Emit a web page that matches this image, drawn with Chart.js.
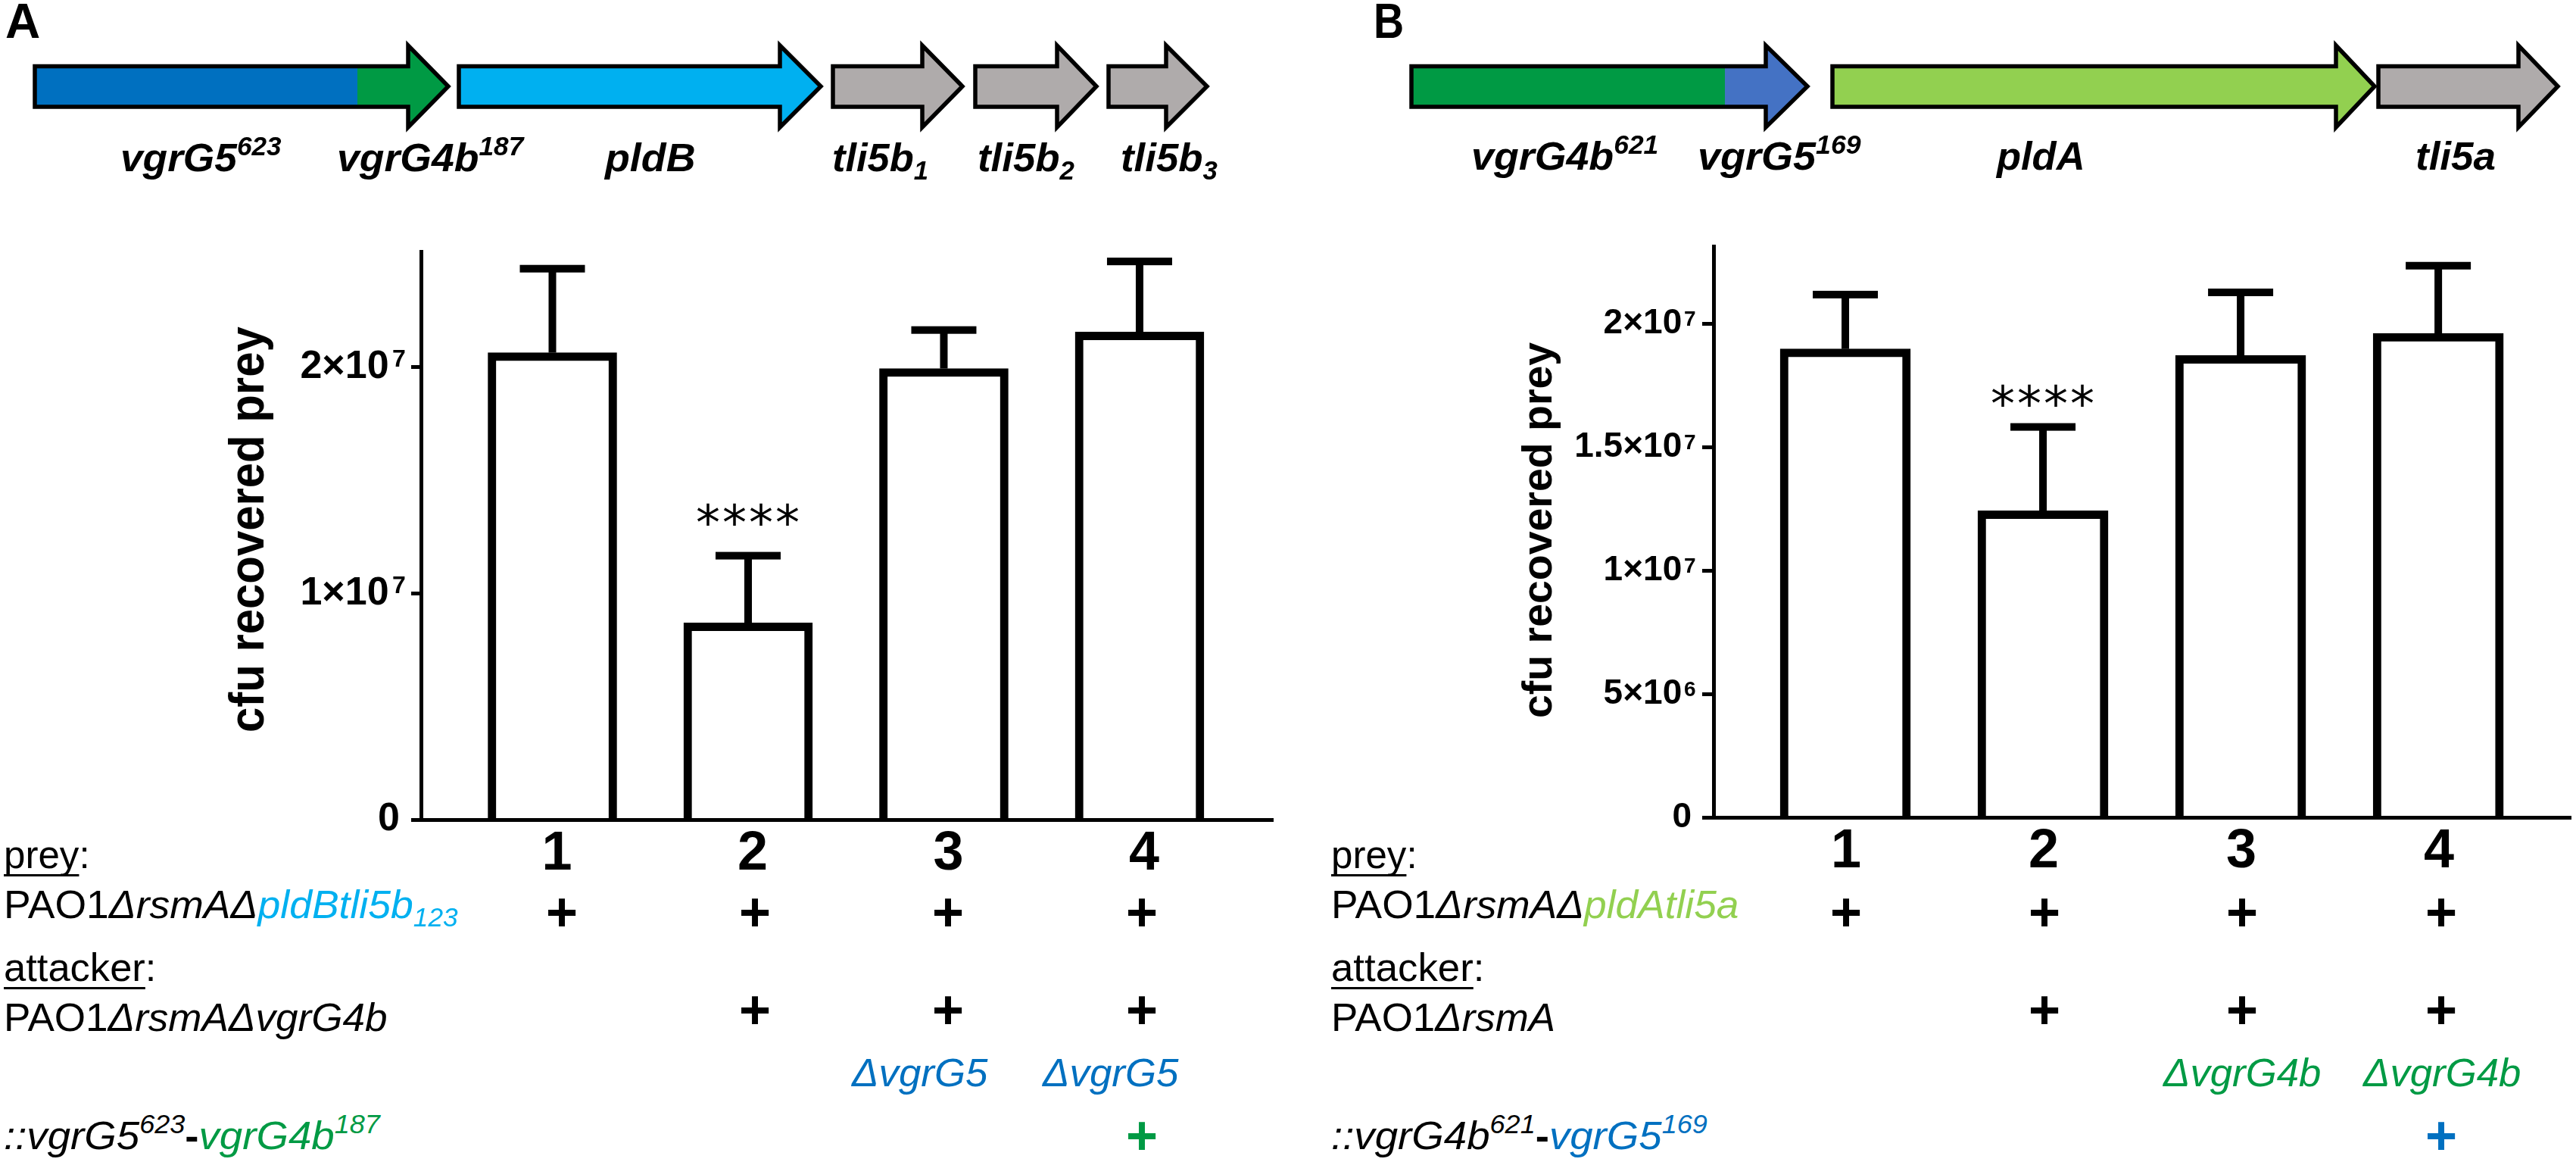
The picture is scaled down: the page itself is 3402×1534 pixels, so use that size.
<!DOCTYPE html>
<html>
<head>
<meta charset="utf-8">
<title>cfu recovered prey</title>
<script src="https://cdn.jsdelivr.net/npm/chart.js@4/dist/chart.umd.min.js"></script>
<style>
  html, body { margin: 0; background: #fff; }
  #page { position: relative; width: 3402px; height: 1534px; overflow: hidden; font-family: "Liberation Sans", Arial, sans-serif; color: #000; }
  .box { position: absolute; top: 0; height: 1180px; }
  .lab { position: absolute; white-space: nowrap; line-height: 1; transform-origin: 0 0; }
  .lab span { line-height: 1; }
  .i { font-style: italic; }
  .u { text-decoration: underline; text-decoration-thickness: 3px; text-underline-offset: 8px; text-decoration-skip-ink: none; }
  .sup, .sub { position: relative; font-size: 0.66em; }
  .sup { top: -0.62em; }
  .sub { top: 0.32em; }
  #genes { position: absolute; left: 0; top: 0; }
</style>
</head>
<body>
<div id="page">
  <svg id="genes" width="3402" height="200"></svg>
  <div class="box" style="left:0;width:1700px"><canvas id="chartA"></canvas></div>
  <div class="box" style="left:1700px;width:1702px"><canvas id="chartB"></canvas></div>
</div>
<script>
const groups = [1, 2, 3, 4];

const meansA = [2.063e7, 0.869e7, 1.993e7, 2.154e7];
const errorsA = [0.371e7, 0.297e7, 0.170e7, 0.312e7];
const starsA = [null, 1.327e7, null, null];
const yTicksA = [0, 1e7, 2e7];
const yTickLabelsA = ['0', '1×10\u00a0', '2×10\u00a0'];
const yTickExpsA = ['', '7', '7'];

const meansB = [1.897e7, 1.241e7, 1.870e7, 1.960e7];
const errorsB = [0.220e7, 0.340e7, 0.256e7, 0.274e7];
const starsB = [null, 1.688e7, null, null];
const yTicksB = [0, 5e6, 1e7, 1.5e7, 2e7];
const yTickLabelsB = ['0', '5×10\u00a0', '1×10\u00a0', '1.5×10\u00a0', '2×10\u00a0'];
const yTickExpsB = ['', '6', '7', '7', '7'];

const BLUE = '#0070c0', GREEN = '#009a44', CYAN = '#00b0f0', GREY = '#afabab', MIDBLUE = '#4472c4', LIME = '#92d050';

// x0, head base, tip, main colour, split x, end colour
const arrows = [
  [46, 539, 592, BLUE, 472, GREEN],
  [606, 1030, 1084, CYAN],
  [1100, 1218, 1271, GREY],
  [1288, 1396, 1448, GREY],
  [1464, 1540, 1594, GREY],
  [1864, 2332, 2387, GREEN, 2278, MIDBLUE],
  [2420, 3085, 3136, LIME],
  [3141, 3326, 3378, GREY]
];

// error bars, significance stars and tick exponents, placed through the scales
const errorBars = {
  id: 'errorBars',
  afterDatasetsDraw(chart, args, opts) {
    const { ctx, scales: { x, y } } = chart;
    ctx.save();
    ctx.fillStyle = '#000';
    opts.means.forEach((m, i) => {
      const px = x.getPixelForValue(groups[i]);
      const top = y.getPixelForValue(m + opts.errors[i]);
      ctx.fillRect(px - 5, top, 10, y.getPixelForValue(m) - top);
      ctx.fillRect(px - 43, top - 5, 86, 10);
      if (opts.stars[i] !== null) {
        ctx.font = '64px "DejaVu Sans"';
        ctx.letterSpacing = '3px';
        ctx.textAlign = 'center';
        ctx.textBaseline = 'middle';
        ctx.fillText('****', px + 1, y.getPixelForValue(opts.stars[i]) + 10);
      }
    });
    ctx.letterSpacing = '0px';
    ctx.font = `bold ${opts.expSize}px "Liberation Sans"`;
    ctx.textAlign = 'left';
    ctx.textBaseline = 'alphabetic';
    opts.yTicks.forEach((v, i) => {
      ctx.fillText(opts.exps[i], y.right - opts.expLeft, y.getPixelForValue(v) + opts.expDrop);
    });
    ctx.restore();
  }
};

function makeChart(id, s) {
  return new Chart(document.getElementById(id), {
    type: 'bar',
    data: {
      datasets: [{
        data: groups.map((g, i) => ({ x: g, y: s.means[i] })),
        backgroundColor: '#fff',
        borderColor: '#000',
        borderWidth: 11,
        borderSkipped: 'bottom',
        barThickness: s.barWidth
      }]
    },
    options: {
      responsive: true,
      maintainAspectRatio: false,
      animation: false,
      layout: { padding: { left: s.left, right: s.right, top: s.top, bottom: 0 } },
      plugins: {
        legend: { display: false },
        tooltip: { enabled: false },
        errorBars: {
          means: s.means, errors: s.errors, stars: s.stars, yTicks: s.yTicks, exps: s.yExps,
          expSize: s.expSize, expLeft: s.expLeft, expDrop: s.expDrop
        }
      },
      scales: {
        x: {
          type: 'linear',
          offset: false,
          min: s.xMin,
          max: s.xMax,
          afterFit(scale) { scale.height = 1180 - s.bottom; },
          border: { color: '#000', width: 5, z: 1 },
          grid: { display: false },
          ticks: {
            stepSize: 1,
            includeBounds: false,
            color: '#000',
            padding: 2,
            labelOffset: s.labelOffset,
            maxRotation: 0,
            font: { family: '"Liberation Sans"', size: 72, weight: 'bold', lineHeight: 1 }
          },
          afterBuildTicks(scale) { scale.ticks = groups.map(v => ({ value: v })); }
        },
        y: {
          min: 0,
          max: s.yMax,
          afterFit(scale) { scale.width = s.scaleWidth; },
          afterBuildTicks(scale) { scale.ticks = s.yTicks.map(v => ({ value: v })); },
          border: { color: '#000', width: 5, z: 1 },
          grid: { drawOnChartArea: false, drawTicks: true, tickLength: s.tickLen, tickWidth: 5, tickColor: '#000' },
          ticks: {
            color: '#000',
            padding: s.tickPad,
            font: { family: '"Liberation Sans"', size: s.tickSize, weight: 'bold' },
            callback: v => s.yLabels[s.yTicks.indexOf(v)]
          }
        }
      }
    },
    plugins: [errorBars]
  });
}

makeChart('chartA', {
  means: meansA, errors: errorsA, stars: starsA, yTicks: yTicksA, yLabels: yTickLabelsA, yExps: yTickExpsA,
  barWidth: 170, left: 200, scaleWidth: 356, right: 19, top: 332, bottom: 1082,
  xMin: 0.3288, xMax: 4.681, yMax: 2.51e7, tickLen: 13, tickPad: 15, tickSize: 52, labelOffset: 6,
  expSize: 32, expLeft: 38, expDrop: 0
});
makeChart('chartB', {
  means: meansB, errors: errorsB, stars: starsB, yTicks: yTicksB, yLabels: yTickLabelsB, yExps: yTickExpsB,
  barWidth: 172, left: 200, scaleWidth: 363, right: 7, top: 325, bottom: 1079,
  xMin: 0.3333, xMax: 4.670, yMax: 2.313e7, tickLen: 15, tickPad: 14, tickSize: 46, labelOffset: 1,
  expSize: 28, expLeft: 39, expDrop: 3
});

// gene arrows
let svg = '';
arrows.forEach(([x0, xh, tip, c, split, c2]) => {
  const pts = [[x0, 87.5], [xh, 87.5], [xh, 60], [tip, 114], [xh, 168], [xh, 141], [x0, 141]].map(p => p.join(',')).join(' ');
  svg += `<polygon points="${pts}" fill="${c2 || c}"/>`;
  if (split) svg += `<rect x="${x0}" y="87.5" width="${split - x0}" height="53.5" fill="${c}"/>`;
  svg += `<polygon points="${pts}" fill="none" stroke="#000" stroke-width="5.5" stroke-miterlimit="10"/>`;
});
document.getElementById('genes').innerHTML = svg;

// text around the charts; each one is fitted to the width it has in the figure
const page = document.getElementById('page');
function label(x, base, width, size, html, extra) {
  const d = document.createElement('div');
  d.className = 'lab';
  d.innerHTML = html;
  d.style.fontSize = size + 'px';
  d.style.left = x + 'px';
  d.style.top = (base - 0.8465 * size) + 'px';
  Object.assign(d.style, extra || {});
  page.appendChild(d);
  d.style.transform = `scaleX(${width / d.offsetWidth})`;
  return d;
}
function axisTitle(baseX, bottomY, length, size) {
  const d = document.createElement('div');
  d.className = 'lab';
  d.textContent = 'cfu recovered prey';
  d.style.fontSize = size + 'px';
  d.style.fontWeight = 'bold';
  d.style.left = (baseX - 0.8465 * size) + 'px';
  d.style.top = bottomY + 'px';
  page.appendChild(d);
  d.style.transform = `rotate(-90deg) scaleX(${length / d.offsetWidth})`;
}
function plus(x, y, color) {
  const d = document.createElement('div');
  d.className = 'lab';
  d.textContent = '+';
  d.style.fontSize = '72px';
  d.style.fontWeight = 'bold';
  d.style.color = color || '#000';
  d.style.left = x + 'px';
  d.style.top = y + 'px';
  page.appendChild(d);
  d.style.transform = 'translate(-50%, -50%)';
  d.style.transformOrigin = '50% 50%';
}
const col = (c, s) => `<span style="color:${c}">${s}</span>`;
const sup = s => `<span class="sup">${s}</span>`;
const sub = s => `<span class="sub">${s}</span>`;
const GENE = { fontWeight: 'bold', fontStyle: 'italic' };

label(7, 50, 46, 64, 'A', { fontWeight: 'bold' });
label(1814, 50, 40, 64, 'B', { fontWeight: 'bold' });

label(159, 226, 213, 52, `vgrG5${sup('623')}`, GENE);
label(445, 226, 246, 52, `vgrG4b${sup('187')}`, GENE);
label(799, 226, 120, 52, 'pldB', GENE);
label(1099, 226, 127, 52, `tli5b${sub('1')}`, GENE);
label(1291, 226, 128, 52, `tli5b${sub('2')}`, GENE);
label(1480, 226, 128, 52, `tli5b${sub('3')}`, GENE);
label(1943, 224, 247, 52, `vgrG4b${sup('621')}`, GENE);
label(2242, 224, 216, 52, `vgrG5${sup('169')}`, GENE);
label(2637, 224, 117, 52, 'pldA', GENE);
label(3190, 224, 106, 52, 'tli5a', GENE);

axisTitle(348, 967, 536, 64);
axisTitle(2049, 948, 496, 56);

label(5, 1146, 114, 52, '<span class="u">prey</span>:');
label(5, 1212, 600, 52, `PAO1<span class="i">Δ</span><span class="i">rsmAΔ${col(CYAN, 'pldBtli5b' + sub('123'))}</span>`);
label(5, 1295, 201, 52, '<span class="u">attacker</span>:');
label(5, 1361, 507, 52, 'PAO1<span class="i">ΔrsmAΔvgrG4b</span>');
label(1125, 1434, 180, 52, col(BLUE, '<span class="i">ΔvgrG5</span>'));
label(1377, 1434, 180, 52, col(BLUE, '<span class="i">ΔvgrG5</span>'));
label(5, 1517, 497, 52, `<span class="i">::vgrG5${sup('623')}</span><b>-</b><span class="i">${col(GREEN, 'vgrG4b' + sup('187'))}</span>`);

label(1758, 1146, 114, 52, '<span class="u">prey</span>:');
label(1758, 1212, 538, 52, `PAO1<span class="i">ΔrsmAΔ${col(LIME, 'pldAtli5a')}</span>`);
label(1758, 1295, 202, 52, '<span class="u">attacker</span>:');
label(1758, 1361, 296, 52, 'PAO1<span class="i">ΔrsmA</span>');
label(2857, 1434, 208, 52, col(GREEN, '<span class="i">ΔvgrG4b</span>'));
label(3121, 1434, 208, 52, col(GREEN, '<span class="i">ΔvgrG4b</span>'));
label(1758, 1517, 497, 52, `<span class="i">::vgrG4b${sup('621')}</span><b>-</b><span class="i">${col(BLUE, 'vgrG5' + sup('169'))}</span>`);

// which strain has which element, column by column
const plusColsA = [742, 997, 1252, 1508];
const plusColsB = [2438, 2700, 2961, 3224];
const preyRow = [1, 1, 1, 1];
const attackerRow = [0, 1, 1, 1];
const fusionRow = [0, 0, 0, 1];
[[plusColsA, GREEN], [plusColsB, BLUE]].forEach(([cols, c]) => {
  cols.forEach((x, i) => {
    if (preyRow[i]) plus(x, 1204);
    if (attackerRow[i]) plus(x, 1333);
    if (fusionRow[i]) plus(x, 1499, c);
  });
});
</script>
</body>
</html>
